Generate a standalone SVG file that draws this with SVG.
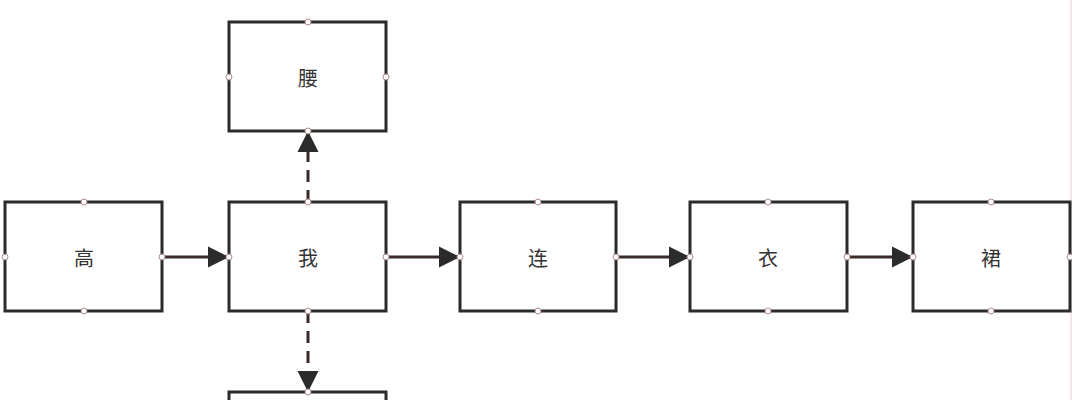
<svg xmlns="http://www.w3.org/2000/svg" width="1072" height="400" viewBox="0 0 1072 400">
<style>
.n rect{fill:#fff;stroke:#2b2b2b;stroke-width:3}
.n text{font-family:"Noto Sans CJK SC",sans-serif;font-size:20px;fill:#333;text-anchor:middle;dominant-baseline:central}
.p{fill:#fff;stroke:#b08a8a;stroke-width:1}
.c{stroke:#3a2a2a;stroke-width:3;fill:none;marker-end:url(#a)}
.d{stroke-dasharray:12,8}
</style>
<defs><marker id="a" markerWidth="8" markerHeight="8" refX="7" refY="4" orient="auto" markerUnits="strokeWidth"><path d="M0,0.5L7,4L0,7.5z" fill="#2b2b2b"/></marker></defs>
<rect width="1072" height="400" fill="#fff"/>
<line x1="1071" y1="0" x2="1071" y2="400" stroke="#e6cfe0" stroke-width="1"/>
<g id="connectors">
<line class="c" x1="162" y1="257" x2="229" y2="257"/>
<line class="c" x1="386" y1="257" x2="460" y2="257"/>
<line class="c" x1="616" y1="257" x2="690" y2="257"/>
<line class="c" x1="847" y1="257" x2="913" y2="257"/>
<line class="c d" x1="308" y1="202" x2="308" y2="131"/>
<line class="c d" x1="308" y1="311" x2="308" y2="392"/>
</g>
<g id="n-yao" class="n"><rect x="229" y="22" width="157" height="109"/><text x="308" y="77">腰</text></g>
<g id="n-gao" class="n"><rect x="5" y="202" width="157" height="109"/><text x="84" y="257">高</text></g>
<g id="n-wo" class="n"><rect x="229" y="202" width="157" height="109"/><text x="308" y="257">我</text></g>
<g id="n-lian" class="n"><rect x="460" y="202" width="156" height="109"/><text x="538" y="257">连</text></g>
<g id="n-yi" class="n"><rect x="690" y="202" width="157" height="109"/><text x="768" y="257">衣</text></g>
<g id="n-qun" class="n"><rect x="913" y="202" width="157" height="109"/><text x="991" y="257">裙</text></g>
<g id="n-bottom" class="n"><rect x="229" y="392" width="157" height="109"/></g>
<g id="ports">
<circle class="p" cx="308" cy="22" r="3"/><circle class="p" cx="229" cy="77" r="3"/><circle class="p" cx="386" cy="77" r="3"/><circle class="p" cx="308" cy="131" r="3"/>
<circle class="p" cx="84" cy="202" r="3"/><circle class="p" cx="5" cy="257" r="3"/><circle class="p" cx="162" cy="257" r="3"/><circle class="p" cx="84" cy="311" r="3"/>
<circle class="p" cx="308" cy="202" r="3"/><circle class="p" cx="229" cy="257" r="3"/><circle class="p" cx="386" cy="257" r="3"/><circle class="p" cx="308" cy="311" r="3"/>
<circle class="p" cx="538" cy="202" r="3"/><circle class="p" cx="460" cy="257" r="3"/><circle class="p" cx="616" cy="257" r="3"/><circle class="p" cx="538" cy="311" r="3"/>
<circle class="p" cx="768" cy="202" r="3"/><circle class="p" cx="690" cy="257" r="3"/><circle class="p" cx="847" cy="257" r="3"/><circle class="p" cx="768" cy="311" r="3"/>
<circle class="p" cx="991" cy="202" r="3"/><circle class="p" cx="913" cy="257" r="3"/><circle class="p" cx="1070" cy="257" r="3"/><circle class="p" cx="991" cy="311" r="3"/>
<circle class="p" cx="308" cy="392" r="3"/>
</g>
</svg>
